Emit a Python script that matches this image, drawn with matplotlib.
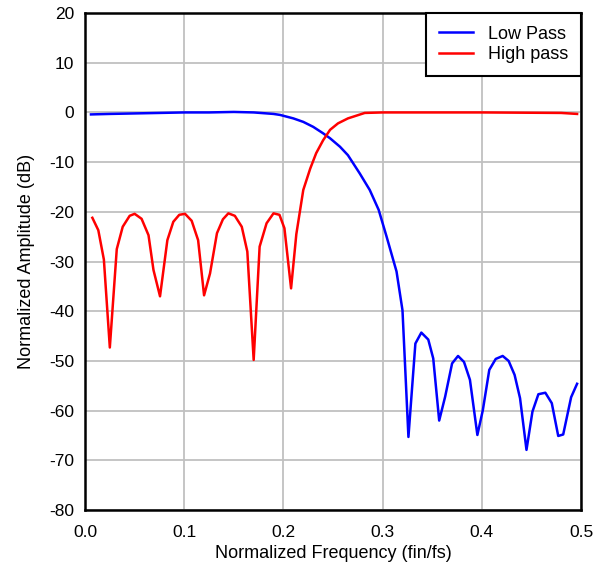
import numpy as np
import matplotlib.pyplot as plt

plt.rcParams['font.family'] = ['Liberation Sans', 'DejaVu Sans']
plt.rcParams['axes.unicode_minus'] = False

# Low pass response
lp_x = [0.006, 0.025, 0.05, 0.075, 0.10, 0.125, 0.15, 0.17, 0.19, 0.1966, 0.21, 0.22,
        0.23, 0.24, 0.247, 0.257, 0.265, 0.277, 0.287, 0.296, 0.304, 0.314, 0.320,
        0.326, 0.333, 0.339, 0.346, 0.351, 0.357, 0.363, 0.370, 0.376, 0.382, 0.388,
        0.3955, 0.401, 0.4075, 0.414, 0.421, 0.427, 0.433, 0.4385, 0.445, 0.451,
        0.457, 0.464, 0.4705, 0.477, 0.482, 0.490, 0.496]
lp_y = [-0.4, -0.3, -0.2, -0.1, 0.0, 0.0, 0.1, 0.0, -0.3, -0.5, -1.2, -1.9,
        -2.9, -4.2, -5.2, -6.9, -8.6, -12.3, -15.6, -19.6, -25.0, -32.0, -39.8,
        -65.3, -46.5, -44.3, -45.7, -49.5, -62.0, -57.2, -50.5, -49.0, -50.2, -53.8,
        -64.9, -59.9, -51.8, -49.6, -49.0, -50.0, -52.8, -57.5, -67.9, -60.2,
        -56.7, -56.4, -58.5, -65.1, -64.8, -57.3, -54.6]

# High pass response
hp_x = [0.0074, 0.0134, 0.019, 0.025, 0.032, 0.038, 0.045, 0.050, 0.057, 0.064,
        0.069, 0.0756, 0.083, 0.089, 0.095, 0.1008, 0.1075, 0.114, 0.120, 0.126,
        0.133, 0.139, 0.1445, 0.151, 0.158, 0.1636, 0.170, 0.176, 0.183, 0.190,
        0.196, 0.201, 0.2077, 0.213, 0.220, 0.227, 0.233, 0.240, 0.247, 0.255,
        0.265, 0.282, 0.30, 0.40, 0.48, 0.496]
hp_y = [-21.2, -23.7, -29.6, -47.3, -27.5, -23.0, -20.8, -20.4, -21.4, -24.7,
        -31.7, -37.0, -25.7, -22.0, -20.6, -20.4, -21.8, -25.7, -36.8, -32.4,
        -24.3, -21.5, -20.3, -20.8, -23.0, -28.0, -49.8, -27.0, -22.3, -20.3,
        -20.6, -23.3, -35.4, -24.5, -15.6, -11.3, -8.2, -5.6, -3.5, -2.2,
        -1.2, -0.1, 0.0, 0.0, -0.1, -0.3]

fig = plt.figure(figsize=(6.03, 5.67), dpi=100)
ax = fig.add_axes([0.141, 0.1005, 0.8226, 0.8765])

ax.plot(lp_x, lp_y, color='#0000ff', lw=1.8, label='Low Pass')
ax.plot(hp_x, hp_y, color='#ff0000', lw=1.8, label='High pass')

ax.set_xlim(0, 0.5)
ax.set_ylim(-80, 20)
ax.set_xticks(np.arange(0, 0.51, 0.1))
ax.set_xticklabels([f'{v:.1f}' for v in np.arange(0, 0.51, 0.1)])
ax.set_yticks(np.arange(-80, 21, 10))
ax.grid(True, color='#c0c0c0', lw=1.3)
ax.set_axisbelow(True)
ax.tick_params(length=0, labelsize=12.5)
ax.tick_params(axis='x', pad=10.5)
ax.tick_params(axis='y', pad=8)
for s in ax.spines.values():
    s.set_linewidth(1.8)
    s.set_color('black')

ax.set_xlabel('Normalized Frequency (fin/fs)', fontsize=13, labelpad=4)
ax.set_ylabel('Normalized Amplitude (dB)', fontsize=13, labelpad=10)

leg = ax.legend(loc='upper right', fontsize=13, fancybox=False, framealpha=1,
                edgecolor='black', borderaxespad=0, handlelength=1.9,
                handletextpad=0.85, labelspacing=0.2, borderpad=0.7)
leg.get_frame().set_linewidth(1.5)

fig.savefig('out.png', dpi=100)
